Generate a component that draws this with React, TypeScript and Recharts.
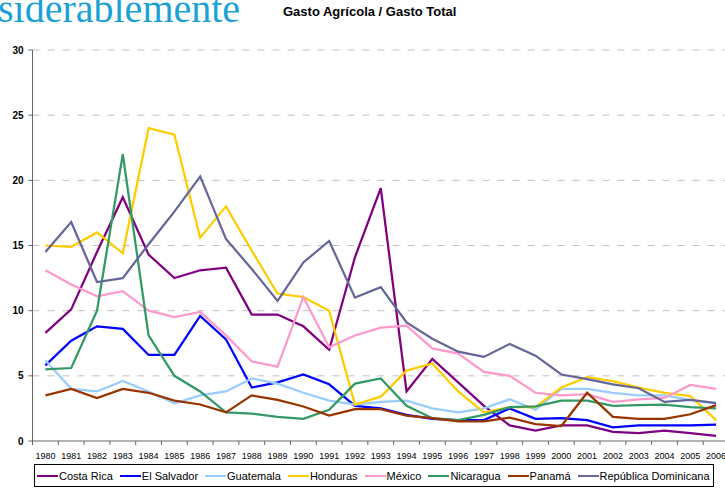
import { LineChart, Line, XAxis, YAxis, CartesianGrid } from 'recharts';

const years = ['1980', '1981', '1982', '1983', '1984', '1985', '1986', '1987', '1988', '1989', '1990', '1991', '1992', '1993', '1994', '1995', '1996', '1997', '1998', '1999', '2000', '2001', '2002', '2003', '2004', '2005', '2006'];

const costaRica = [8.3, 10.1, 14.5, 18.7, 14.3, 12.5, 13.1, 13.3, 9.7, 9.7, 8.8, 7.0, 14.1, 19.4, 3.8, 6.3, 4.5, 2.7, 1.2, 0.8, 1.2, 1.2, 0.7, 0.6, 0.8, 0.6, 0.4];
const elSalvador = [5.8, 7.7, 8.8, 8.6, 6.6, 6.6, 9.6, 7.8, 4.1, 4.5, 5.1, 4.35, 2.7, 2.5, 2.0, 1.7, 1.6, 1.6, 2.5, 1.7, 1.75, 1.6, 1.05, 1.2, 1.2, 1.2, 1.25];
const guatemala = [6.2, 4.0, 3.8, 4.6, 3.8, 2.9, 3.5, 3.8, 4.8, 4.4, 3.7, 3.1, 2.8, 3.0, 3.1, 2.5, 2.2, 2.5, 3.2, 2.4, 4.0, 4.0, 3.7, 3.5, 3.5, 3.15, 2.9];
const honduras = [15.0, 14.9, 16.0, 14.4, 24.0, 23.5, 15.6, 18.0, 14.6, 11.3, 11.05, 10.0, 2.8, 3.4, 5.4, 5.95, 3.8, 2.2, 2.6, 2.6, 4.1, 4.9, 4.6, 4.1, 3.7, 3.45, 1.6];
const mexico = [13.1, 12.0, 11.1, 11.5, 10.0, 9.5, 9.9, 8.1, 6.1, 5.7, 11.05, 7.2, 8.1, 8.7, 8.85, 7.1, 6.7, 5.3, 5.0, 3.7, 3.5, 3.6, 3.0, 3.2, 3.3, 4.3, 4.0];
const nicaragua = [5.5, 5.6, 10.0, 22.0, 8.1, 5.0, 3.8, 2.2, 2.1, 1.85, 1.7, 2.4, 4.4, 4.8, 2.7, 1.75, 1.6, 2.0, 2.6, 2.65, 3.1, 3.1, 2.7, 2.75, 2.8, 2.6, 2.5];
const panama = [3.5, 4.0, 3.3, 4.0, 3.7, 3.1, 2.8, 2.2, 3.5, 3.15, 2.65, 1.95, 2.45, 2.45, 1.95, 1.75, 1.5, 1.5, 1.8, 1.3, 1.15, 3.7, 1.85, 1.7, 1.7, 2.05, 2.75];
const repDom = [14.5, 16.8, 12.2, 12.5, 15.1, 17.6, 20.3, 15.5, 13.2, 10.75, 13.7, 15.35, 11.0, 11.8, 9.1, 7.85, 6.85, 6.45, 7.45, 6.55, 5.1, 4.75, 4.35, 4.05, 3.0, 3.15, 2.9];

const yTicks = [0, 5, 10, 15, 20, 25, 30];

const series = [
  { key: 'cr', name: 'Costa Rica', color: '#800080', values: costaRica },
  { key: 'sv', name: 'El Salvador', color: '#0000FF', values: elSalvador },
  { key: 'gt', name: 'Guatemala', color: '#99CCFF', values: guatemala },
  { key: 'hn', name: 'Honduras', color: '#FFCC00', values: honduras },
  { key: 'mx', name: 'México', color: '#FF99CC', values: mexico },
  { key: 'ni', name: 'Nicaragua', color: '#339966', values: nicaragua },
  { key: 'pa', name: 'Panamá', color: '#993300', values: panama },
  { key: 'do', name: 'República Dominicana', color: '#666699', values: repDom },
];

const data = years.map((year, i) => {
  const row: any = { year };
  series.forEach((s) => {
    row[s.key] = s.values[i];
  });
  return row;
});

const HALF_BAND = 12.9;

// excel style: tick marks sit between the categories
const YearTick = (props: any) => {
  const { x, y, payload, index } = props;
  return (
    <g>
      <line x1={x - HALF_BAND} x2={x - HALF_BAND} y1={y - 8} y2={y - 4} stroke="#666" />
      {index === years.length - 1 && (
        <line x1={x + HALF_BAND} x2={x + HALF_BAND} y1={y - 8} y2={y - 4} stroke="#666" />
      )}
      <text x={x} y={y + 10} textAnchor="middle" fontSize={9} fill="#000" fontFamily="Liberation Sans, Arial, sans-serif">
        {payload.value}
      </text>
    </g>
  );
};

const App = () => {
  return (
    <div style={{ position: 'absolute', left: 0, top: 0, width: 725, height: 489, overflow: 'hidden', background: '#fff' }}>
      <div
        style={{
          position: 'absolute',
          left: -2,
          top: -14,
          fontFamily: 'Liberation Serif, Times New Roman, serif',
          fontSize: 40,
          color: '#1BA1D6',
          lineHeight: '46px',
          whiteSpace: 'nowrap',
        }}
      >
        siderablemente
      </div>
      <div
        style={{
          position: 'absolute',
          left: 283,
          top: 4,
          fontFamily: 'Liberation Sans, Arial, sans-serif',
          fontSize: 13,
          fontWeight: 'bold',
          color: '#000',
          whiteSpace: 'nowrap',
        }}
      >
        Gasto Agrícola / Gasto Total
      </div>

      <div style={{ position: 'absolute', left: 0, top: 0 }}>
        <LineChart width={745} height={489} data={data} margin={{ top: 50, right: 16, left: 0, bottom: 0 }}>
          <CartesianGrid vertical={false} stroke="#C0C0C0" strokeDasharray="7 8" horizontalValues={[5, 10, 15, 20, 25, 30]} />
          <XAxis
            dataKey="year"
            padding={{ left: HALF_BAND, right: HALF_BAND }}
            height={48}
            axisLine={{ stroke: '#666' }}
            tickLine={false}
            tick={<YearTick />}
            interval={0}
          />
          <YAxis
            width={32.5}
            domain={[0, 30]}
            ticks={yTicks}
            axisLine={{ stroke: '#666' }}
            tickLine={{ stroke: '#666' }}
            tickSize={4}
            tickMargin={5}
            tick={{ fontSize: 10, fontWeight: 'bold', fill: '#000', fontFamily: 'Liberation Sans, Arial, sans-serif' }}
          />
          {series.map((s) => (
            <Line
              key={s.key}
              type="linear"
              dataKey={s.key}
              name={s.name}
              stroke={s.color}
              strokeWidth={2.25}
              dot={false}
              isAnimationActive={false}
            />
          ))}
        </LineChart>
      </div>

      <div
        style={{
          position: 'absolute',
          left: 34,
          top: 464,
          width: 680,
          height: 23,
          boxSizing: 'border-box',
          border: '1px solid #000',
          display: 'flex',
          alignItems: 'center',
          paddingLeft: 2,
          gap: 7,
          fontFamily: 'Liberation Sans, Arial, sans-serif',
          fontSize: 11,
          color: '#000',
          background: '#fff',
          whiteSpace: 'nowrap',
        }}
      >
        {series.map((s) => (
          <div key={s.key} style={{ display: 'flex', alignItems: 'center' }}>
            <div style={{ width: 21, height: 2, background: s.color, marginRight: 1 }} />
            <span>{s.name}</span>
          </div>
        ))}
      </div>
    </div>
  );
};

export default App;
